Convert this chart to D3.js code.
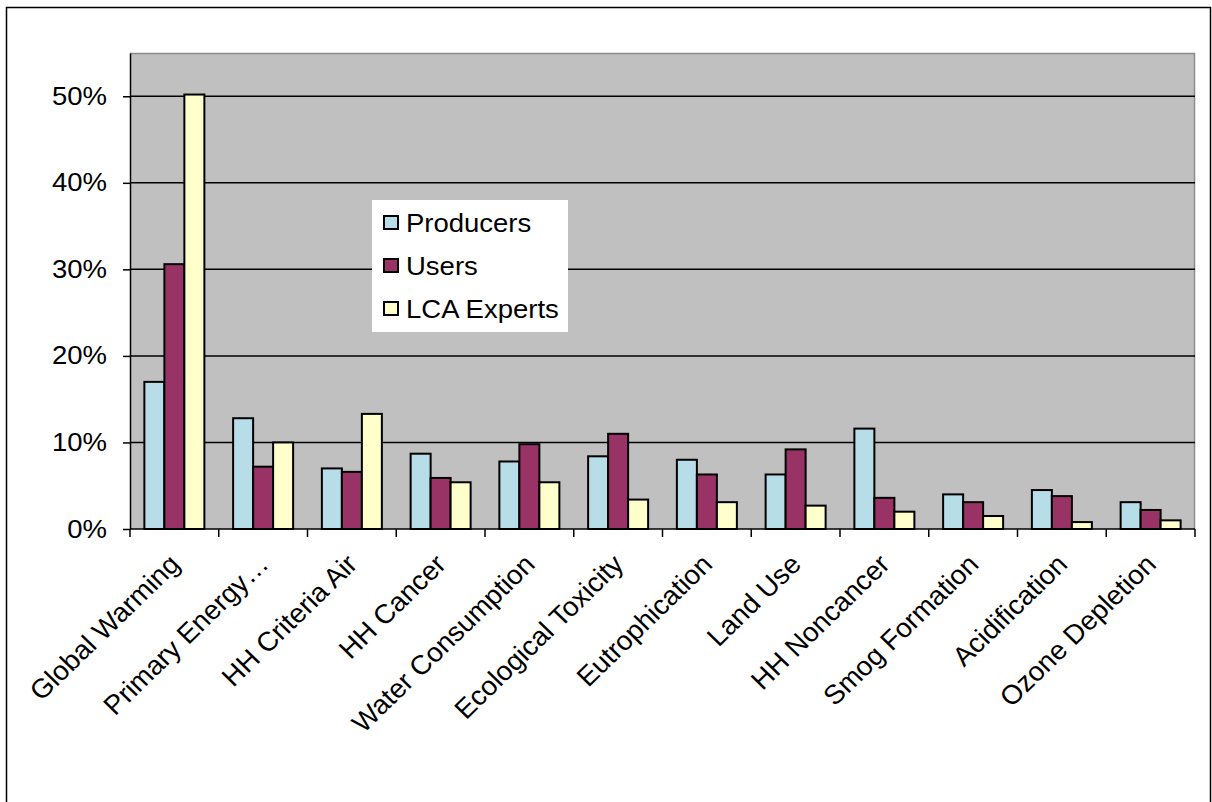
<!DOCTYPE html>
<html>
<head>
<meta charset="utf-8">
<script src="https://cdn.jsdelivr.net/npm/d3@7"></script>
<style>
  body { margin: 0; background: #fff; }
  text { font-family: "Liberation Sans", Arial, sans-serif; fill: #000; }
</style>
</head>
<body>
<div id="chart"></div>
<script>
const categories = ['Global Warming', 'Primary Energy…', 'HH Criteria Air', 'HH Cancer',
    'Water Consumption', 'Ecological Toxicity', 'Eutrophication', 'Land Use',
    'HH Noncancer', 'Smog Formation', 'Acidification', 'Ozone Depletion'];
const seriesNames = ['Producers', 'Users', 'LCA Experts'];
const producers = [0.170, 0.128, 0.070, 0.087, 0.078, 0.084, 0.080, 0.063, 0.116, 0.040, 0.045, 0.031];
const users     = [0.306, 0.072, 0.066, 0.059, 0.098, 0.110, 0.063, 0.092, 0.036, 0.031, 0.038, 0.022];
const experts   = [0.502, 0.100, 0.133, 0.054, 0.054, 0.034, 0.031, 0.027, 0.020, 0.015, 0.008, 0.010];
const yTicks = [0, 0.1, 0.2, 0.3, 0.4, 0.5];
const colors = ['#B7DDE8', '#993366', '#FFFFCC'];

const W = 1212, H = 802;
const plot = {left: 130, right: 1195, top: 53, bottom: 529};
const stretch = 1.1; // the source text is a bit wider than it is tall

const svg = d3.select('#chart').append('svg')
    .attr('width', W).attr('height', H);

// outer chart border
svg.append('rect')
    .attr('x', 6.5).attr('y', 7.5).attr('width', 1204).attr('height', 810)
    .attr('fill', '#fff').attr('stroke', '#000').attr('stroke-width', 1.5);

let x0 = d3.scaleBand().domain(categories)
    .range([plot.left, plot.right]).paddingInner(0.324).paddingOuter(0.162);
let x1 = d3.scaleBand().domain(seriesNames).range([0, x0.bandwidth()]);
let y = d3.scaleLinear().domain([0, 0.55]).range([plot.bottom, plot.top]);

// plot area
svg.append('rect')
    .attr('x', plot.left).attr('y', plot.top)
    .attr('width', plot.right - plot.left).attr('height', plot.bottom - plot.top)
    .attr('fill', '#C0C0C0');
svg.append('path')
    .attr('d', `M${plot.left},${plot.top + 0.5}H${plot.right - 0.5}V${plot.bottom}`)
    .attr('fill', 'none').attr('stroke', '#8c8c8c').attr('stroke-width', 1.5);

// gridlines
svg.append('g').selectAll('line').data(yTicks.slice(1)).join('line')
    .attr('x1', plot.left).attr('x2', plot.right)
    .attr('y1', d => y(d)).attr('y2', d => y(d))
    .attr('stroke', '#000').attr('stroke-width', 1.5);

// bars
let data = [producers, users, experts];
let groups = svg.append('g').selectAll('g').data(categories).join('g')
    .attr('transform', d => `translate(${x0(d)},0)`);
groups.selectAll('rect')
    .data((d, i) => seriesNames.map((s, j) => ({s: s, v: data[j][i], c: colors[j]})))
    .join('rect')
    .attr('x', d => x1(d.s)).attr('width', x1.bandwidth())
    .attr('y', d => y(d.v)).attr('height', d => y(0) - y(d.v))
    .attr('fill', d => d.c).attr('stroke', '#000').attr('stroke-width', 2);

// y axis
let yAxis = d3.axisLeft(y).tickValues(yTicks).tickFormat(d3.format('.0%'))
    .tickSizeInner(7).tickSizeOuter(0).tickPadding(14);
let gy = svg.append('g').attr('transform', `translate(${plot.left},0)`).call(yAxis);
gy.select('.domain').attr('stroke', '#000').attr('stroke-width', 1.5);
gy.selectAll('.tick line').attr('stroke', '#000').attr('stroke-width', 1.5);
gy.selectAll('.tick text').attr('font-size', 25).attr('font-family', '"Liberation Sans", Arial, sans-serif')
    .attr('fill', '#000').attr('transform', `scale(${stretch},1)`);

// x axis: ticks at category boundaries
let bounds = d3.range(categories.length + 1).map(i => plot.left + i * x0.step());
svg.append('line')
    .attr('x1', plot.left).attr('x2', plot.right)
    .attr('y1', plot.bottom).attr('y2', plot.bottom)
    .attr('stroke', '#000').attr('stroke-width', 1.5);
svg.append('g').selectAll('line').data(bounds).join('line')
    .attr('x1', d => d).attr('x2', d => d)
    .attr('y1', plot.bottom).attr('y2', plot.bottom + 8)
    .attr('stroke', '#000').attr('stroke-width', 1.5);

svg.append('g').selectAll('text').data(categories).join('text')
    .attr('transform', d => `translate(${x0(d) + x0.bandwidth() / 2 + 7},566) scale(1.03,1) rotate(-45)`)
    .attr('text-anchor', 'end')
    .attr('font-size', 27)
    .text(d => d);

// legend
let legend = svg.append('g').attr('transform', 'translate(372,200)');
legend.append('rect').attr('width', 196).attr('height', 132).attr('fill', '#fff');
let items = legend.selectAll('g').data(seriesNames).join('g')
    .attr('transform', (d, i) => `translate(0,${i * 43})`);
items.append('rect')
    .attr('x', 12).attr('y', 16).attr('width', 14).attr('height', 13)
    .attr('fill', (d, i) => colors[i]).attr('stroke', '#000').attr('stroke-width', 2);
items.append('text')
    .attr('transform', `translate(34,32) scale(${stretch},1)`)
    .attr('font-size', 25)
    .text(d => d);
</script>
</body>
</html>
